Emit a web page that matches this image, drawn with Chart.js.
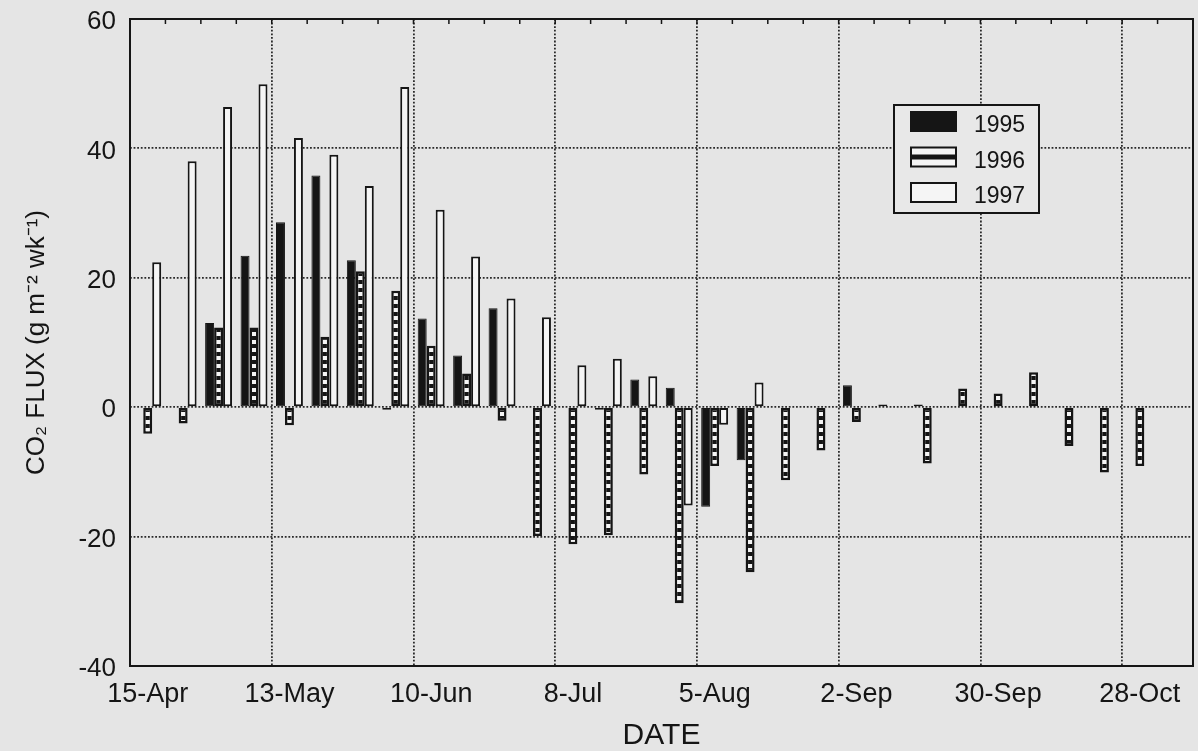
<!DOCTYPE html>
<html>
<head>
<meta charset="utf-8">
<script src="https://cdn.jsdelivr.net/npm/chart.js@4.4.1/dist/chart.umd.min.js"></script>
<style>
  html, body { margin: 0; padding: 0; background: #e5e5e5; }
  canvas { display: block; }
</style>
</head>
<body>
<canvas id="fluxChart" width="1198" height="751"></canvas>
<script>
// Week starting dates, one category per week
const weeks = [
  '15-Apr', '22-Apr', '29-Apr', '6-May', '13-May', '20-May', '27-May', '3-Jun',
  '10-Jun', '17-Jun', '24-Jun', '1-Jul', '8-Jul', '15-Jul', '22-Jul', '29-Jul',
  '5-Aug', '12-Aug', '19-Aug', '26-Aug', '2-Sep', '9-Sep', '16-Sep', '23-Sep',
  '30-Sep', '7-Oct', '14-Oct', '21-Oct', '28-Oct', '4-Nov'
];

// CO2 flux, g m-2 wk-1
const flux1995 = [
  null, null, 13.0, 23.4, 28.6, 35.8, 22.7, -0.4, 13.7, 8.0,
  15.3, null, null, -0.4, 4.3, 3.0, -15.4, -8.2, null, null,
  3.4, 0.4, 0.4, null, null, null, null, null, null, null
];
const flux1996 = [
  -4.1, -2.5, 12.3, 12.3, -2.8, 10.9, 21.0, 18.0, 9.5, 5.2,
  -2.1, -19.9, -21.2, -19.8, -10.4, -30.3, -9.1, -25.5, -11.3, -6.7,
  -2.3, null, -8.7, 2.9, 2.1, 5.4, -6.0, -10.1, -9.1, null
];
const flux1997 = [
  22.4, 38.0, 46.4, 49.9, 41.6, 39.0, 34.2, 49.5, 30.5, 23.3,
  16.8, 13.9, 6.5, 7.5, 4.8, -15.2, -2.7, 3.8, null, null,
  null, null, null, null, null, null, null, null, null, null
];

const yearLabels = ['1995', '1996', '1997'];

const INK = '#151515';
const PAPER = '#f5f5f5';
const DOTS = '#2a2a2a';

Chart.defaults.font.family = "'Liberation Sans', Arial, sans-serif";
Chart.defaults.color = INK;

const canvas = document.getElementById('fluxChart');
const ctx = canvas.getContext('2d');

// ladder-like fill for the 1996 bars
function stripes() {
  const c = document.createElement('canvas');
  c.width = 4;
  c.height = 8;
  const g = c.getContext('2d');
  g.fillStyle = PAPER;
  g.fillRect(0, 0, 4, 8);
  g.fillStyle = INK;
  g.fillRect(0, 0, 4, 4);
  return ctx.createPattern(c, 'repeat');
}

// frame around the plot + weekly ticks along the top edge
const framePlugin = {
  id: 'frame',
  afterDraw(chart) {
    const { ctx, chartArea: a, scales } = chart;
    const x = scales.x;
    ctx.save();
    ctx.strokeStyle = INK;
    ctx.lineWidth = 1.5;
    for (let i = 1; i < weeks.length; i++) {
      const px = (x.getPixelForValue(i - 1) + x.getPixelForValue(i)) / 2;
      ctx.beginPath();
      ctx.moveTo(px, a.top);
      ctx.lineTo(px, a.top + 5);
      ctx.stroke();
    }
    ctx.lineWidth = 2;
    ctx.strokeRect(a.left, a.top, a.right - a.left, a.bottom - a.top);
    ctx.restore();
  }
};

// boxed legend inside the plot, top right
const boxLegend = {
  id: 'boxLegend',
  afterDraw(chart) {
    const { ctx, chartArea: a } = chart;
    const left = a.right - 299;
    const top = a.top + 86;
    ctx.save();
    ctx.fillStyle = '#e8e8e8';
    ctx.fillRect(left, top, 145, 108);
    ctx.strokeStyle = INK;
    ctx.lineWidth = 2;
    ctx.strokeRect(left, top, 145, 108);
    ctx.font = "23px 'Liberation Sans', Arial, sans-serif";
    ctx.textBaseline = 'middle';
    chart.data.datasets.forEach((ds, i) => {
      const sy = top + 7 + i * 35.5;
      if (ds.backgroundColor instanceof CanvasPattern) {
        ctx.fillStyle = PAPER;
        ctx.fillRect(left + 17, sy, 45, 19);
        ctx.fillStyle = INK;
        ctx.fillRect(left + 17, sy + 7, 45, 5);
      } else {
        ctx.fillStyle = ds.backgroundColor;
        ctx.fillRect(left + 17, sy, 45, 19);
      }
      ctx.lineWidth = 2;
      ctx.strokeStyle = INK;
      ctx.strokeRect(left + 17, sy, 45, 19);
      ctx.fillStyle = INK;
      ctx.fillText(ds.label, left + 80, sy + 14);
    });
    ctx.restore();
  }
};

const barCommon = {
  borderColor: INK,
  borderSkipped: false,
  categoryPercentage: 0.76,
  barPercentage: 1.0
};

new Chart(ctx, {
  type: 'bar',
  data: {
    labels: weeks,
    datasets: [
      { ...barCommon, label: yearLabels[0], data: flux1995, backgroundColor: INK, borderWidth: 1 },
      { ...barCommon, label: yearLabels[1], data: flux1996, backgroundColor: stripes(), borderWidth: 2.5 },
      { ...barCommon, label: yearLabels[2], data: flux1997, backgroundColor: PAPER, borderWidth: 2 }
    ]
  },
  options: {
    responsive: false,
    animation: false,
    layout: { padding: { top: 19, right: 5, left: 0, bottom: 0 } },
    plugins: {
      legend: { display: false },
      tooltip: { enabled: false }
    },
    scales: {
      x: {
        type: 'category',
        offset: true,
        grid: {
          offset: true,
          color: c => (c.index % 4 === 0 ? DOTS : 'rgba(0,0,0,0)'),
          lineWidth: 1.8,
          drawTicks: false
        },
        border: { display: false, dash: [1.8, 1.8] },
        ticks: {
          autoSkip: false,
          maxRotation: 0,
          minRotation: 0,
          padding: 12,
          font: { size: 27 },
          callback: (v, i) => (i % 4 === 0 ? weeks[i] : '')
        },
        title: {
          display: true,
          text: 'DATE',
          font: { size: 30, lineHeight: 1.0 },
          padding: { top: 0, bottom: 0 }
        },
        afterFit: scale => {
          scale.height = 85;
          scale.paddingLeft = 0;
          scale.paddingRight = 0;
        }
      },
      y: {
        min: -40,
        max: 60,
        grid: {
          color: DOTS,
          lineWidth: 1.8,
          drawTicks: false
        },
        border: { display: false, dash: [1.8, 1.8] },
        ticks: {
          stepSize: 20,
          padding: 14,
          labelOffset: 3,
          font: { size: 26 }
        },
        title: {
          display: true,
          text: 'CO\u2082 FLUX (g m\u207B\u00B2 wk\u207B\u00B9)',
          font: { size: 26 },
          padding: { top: 21, bottom: 0 }
        },
        afterFit: scale => {
          scale.width = 130;
          scale.paddingTop = 0;
          scale.paddingBottom = 0;
        }
      }
    }
  },
  plugins: [framePlugin, boxLegend]
});
</script>
</body>
</html>
